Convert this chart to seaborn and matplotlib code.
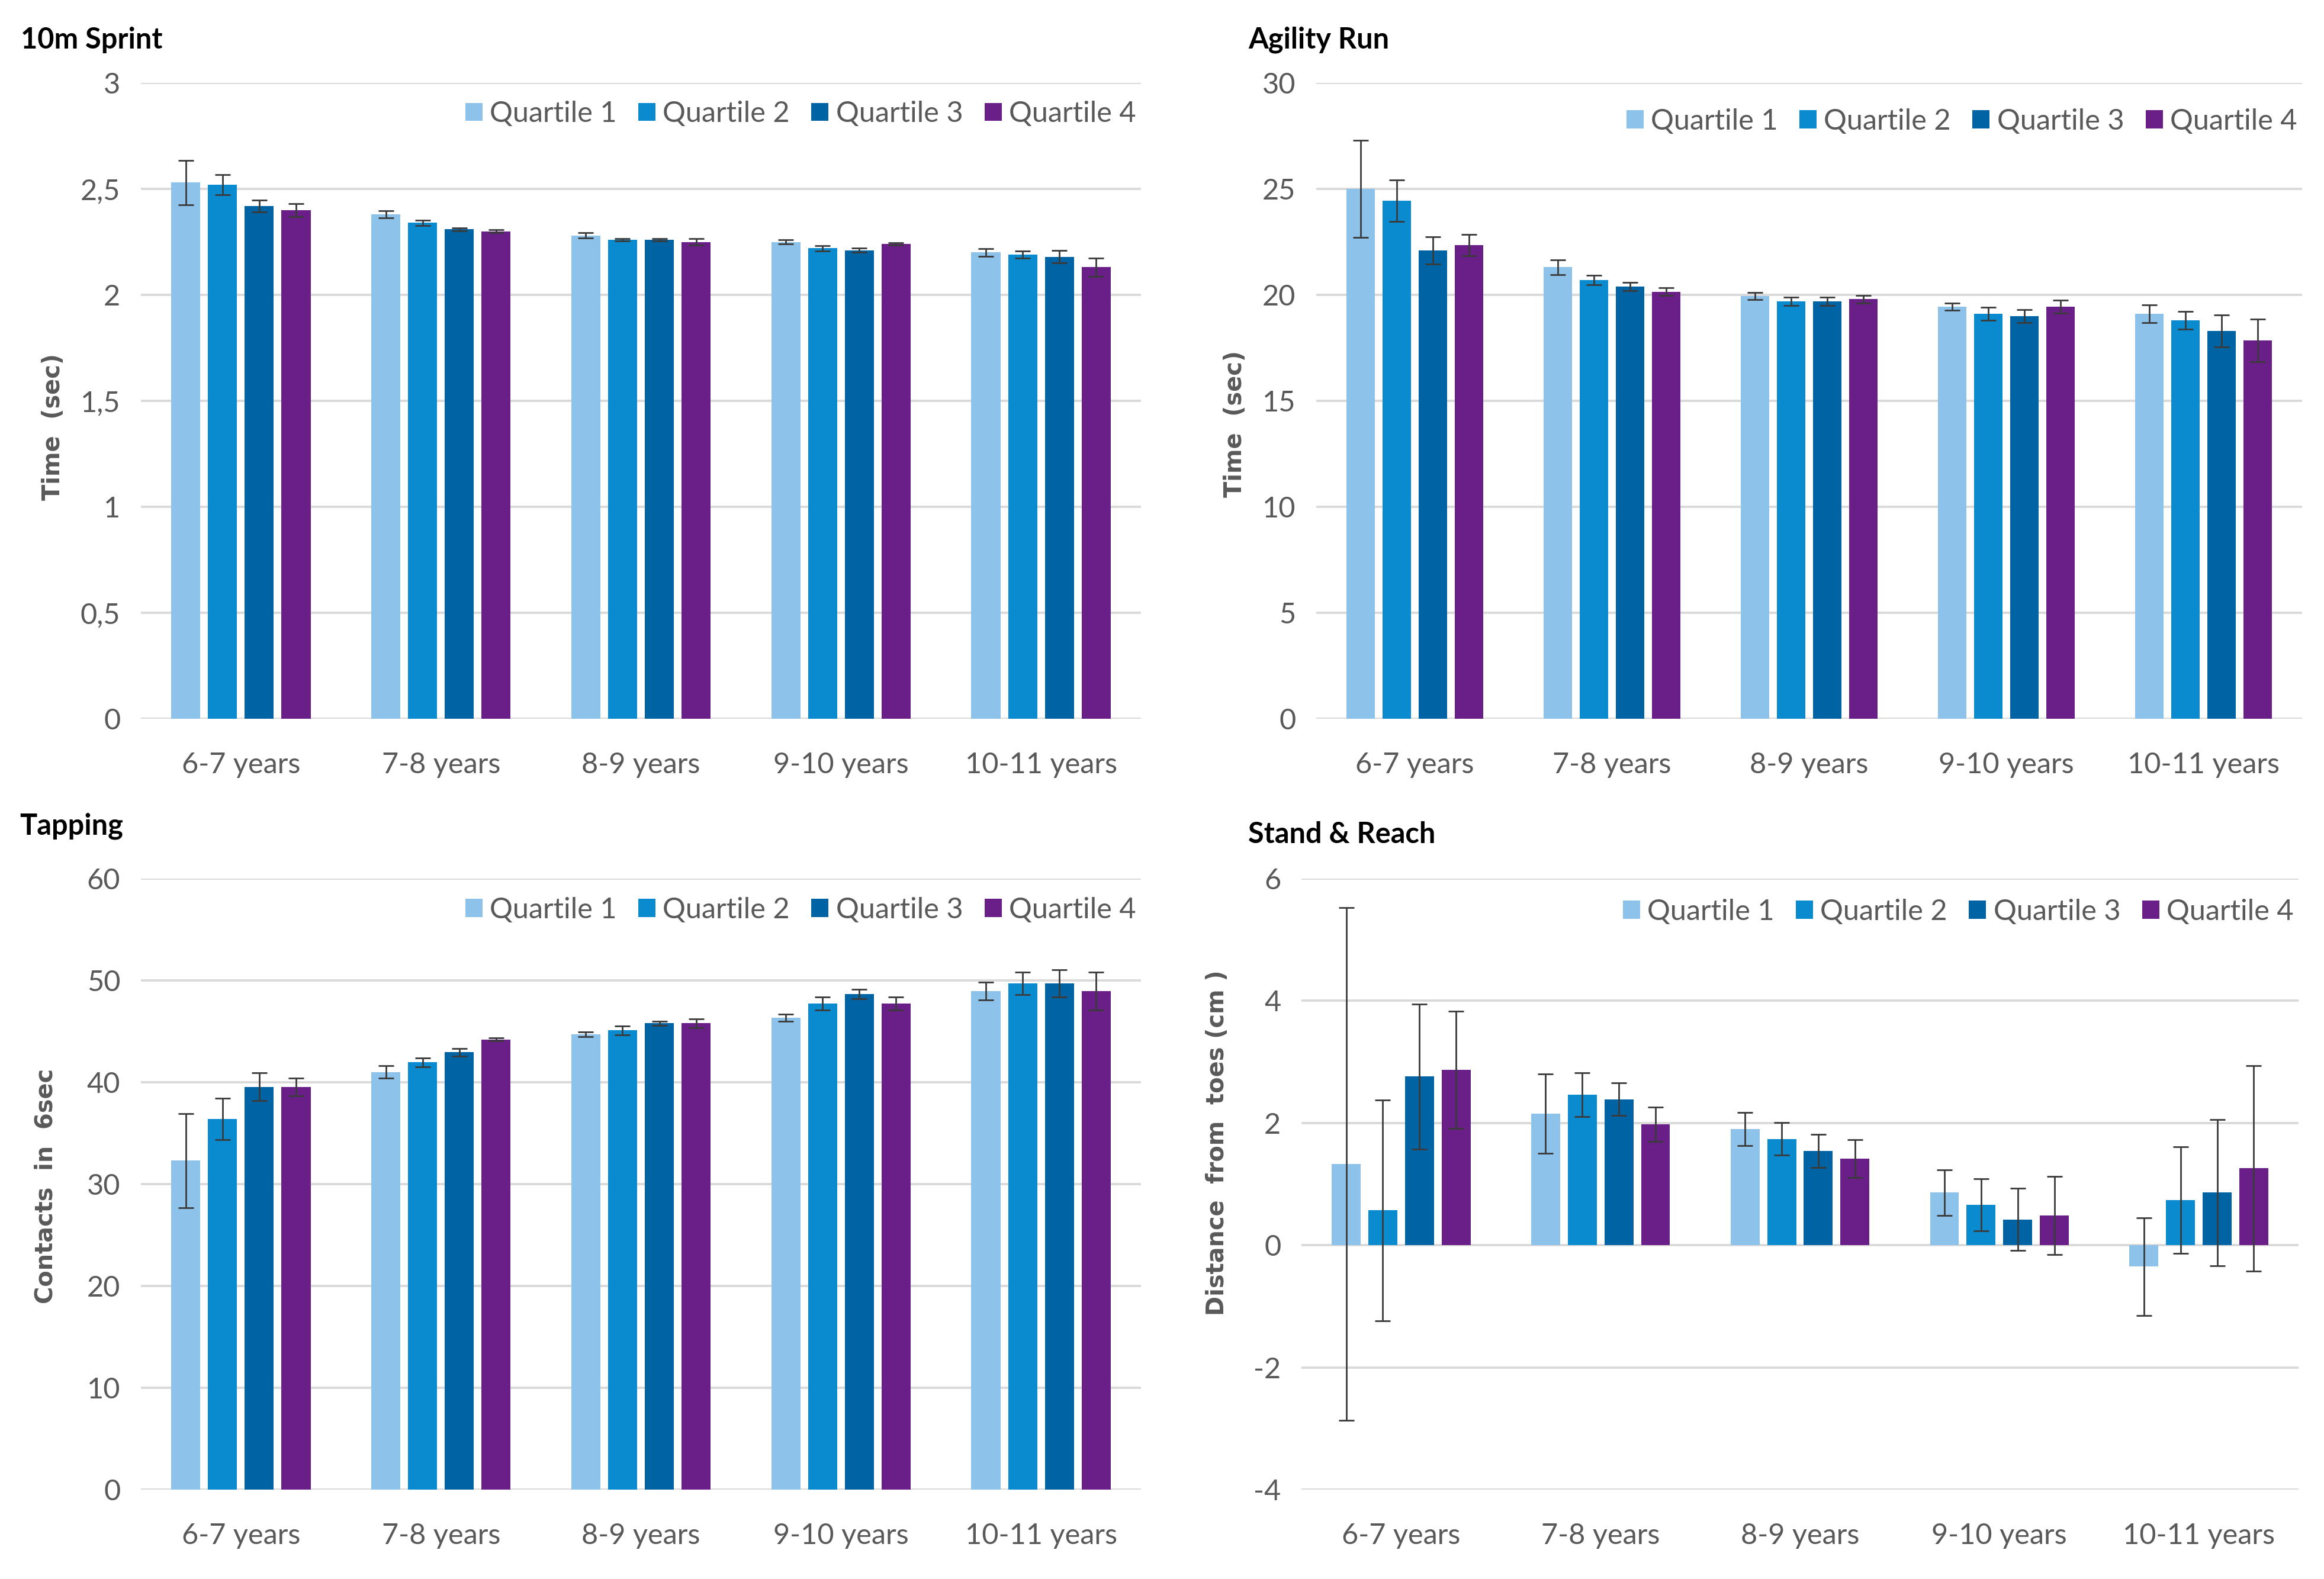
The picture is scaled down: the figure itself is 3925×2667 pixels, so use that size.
import matplotlib
matplotlib.use("Agg")
import matplotlib.pyplot as plt
import seaborn as sns
import pandas as pd

# ---------------- data ----------------
ages = ["6-7 years", "7-8 years", "8-9 years", "9-10 years", "10-11 years"]
quartiles = ["Quartile 1", "Quartile 2", "Quartile 3", "Quartile 4"]
colors = ["#8DC3EA", "#0A8ACF", "#0063A3", "#6A1F88"]

# 10m Sprint (sec) - one list per quartile, over age groups
sprint_q1 = [2.53, 2.38, 2.28, 2.25, 2.20]
sprint_q2 = [2.52, 2.34, 2.26, 2.22, 2.19]
sprint_q3 = [2.42, 2.31, 2.26, 2.21, 2.18]
sprint_q4 = [2.40, 2.30, 2.25, 2.24, 2.13]
sprint_e1 = [0.105, 0.018, 0.012, 0.011, 0.018]
sprint_e2 = [0.047, 0.012, 0.005, 0.012, 0.017]
sprint_e3 = [0.028, 0.007, 0.006, 0.010, 0.030]
sprint_e4 = [0.030, 0.006, 0.015, 0.006, 0.044]

# Agility Run (sec)
agility_q1 = [25.0, 21.3, 19.95, 19.45, 19.1]
agility_q2 = [24.45, 20.7, 19.7, 19.1, 18.8]
agility_q3 = [22.1, 20.4, 19.7, 19.0, 18.3]
agility_q4 = [22.35, 20.15, 19.8, 19.45, 17.85]
agility_e1 = [2.3, 0.35, 0.17, 0.17, 0.42]
agility_e2 = [0.98, 0.22, 0.19, 0.30, 0.42]
agility_e3 = [0.64, 0.20, 0.19, 0.30, 0.76]
agility_e4 = [0.50, 0.18, 0.18, 0.31, 1.00]

# Tapping (contacts in 6 sec)
tapping_q1 = [32.3, 41.0, 44.7, 46.35, 48.95]
tapping_q2 = [36.4, 41.95, 45.1, 47.75, 49.7]
tapping_q3 = [39.55, 42.95, 45.8, 48.65, 49.7]
tapping_q4 = [39.55, 44.2, 45.8, 47.75, 48.95]
tapping_e1 = [4.6, 0.60, 0.25, 0.35, 0.87]
tapping_e2 = [2.05, 0.42, 0.42, 0.64, 1.10]
tapping_e3 = [1.36, 0.38, 0.20, 0.45, 1.34]
tapping_e4 = [0.88, 0.14, 0.45, 0.64, 1.85]

# Stand & Reach (cm from toes)
reach_q1 = [1.33, 2.15, 1.90, 0.86, -0.35]
reach_q2 = [0.57, 2.46, 1.74, 0.66, 0.74]
reach_q3 = [2.76, 2.39, 1.54, 0.42, 0.86]
reach_q4 = [2.87, 1.98, 1.42, 0.49, 1.26]
reach_e1 = [4.20, 0.65, 0.27, 0.37, 0.80]
reach_e2 = [1.81, 0.36, 0.27, 0.43, 0.87]
reach_e3 = [1.19, 0.27, 0.27, 0.51, 1.20]
reach_e4 = [0.96, 0.28, 0.31, 0.64, 1.68]

sprint_ticks = [0, 0.5, 1, 1.5, 2, 2.5, 3]
sprint_ticklabels = ["0", "0,5", "1", "1,5", "2", "2,5", "3"]
agility_ticks = [0, 5, 10, 15, 20, 25, 30]
agility_ticklabels = ["0", "5", "10", "15", "20", "25", "30"]
tapping_ticks = [0, 10, 20, 30, 40, 50, 60]
tapping_ticklabels = ["0", "10", "20", "30", "40", "50", "60"]
reach_ticks = [-4, -2, 0, 2, 4, 6]
reach_ticklabels = ["-4", "-2", "0", "2", "4", "6"]

titles = ["10m Sprint", "Agility Run", "Tapping", "Stand & Reach"]
ylabels = ["Time  (sec)", "Time  (sec)", "Contacts  in  6sec",
           "Distance  from  toes (cm )"]

# ---------------- style ----------------
sns.set_theme(style="white")
plt.rcParams["font.family"] = ["Lato", "DejaVu Sans"]
GRAY = "#595959"

W, H = 3925, 2667
fig = plt.figure(figsize=(W / 250, H / 250), dpi=250)


def frac_rect(l, r, t, b):
    return [l / W, 1 - b / H, (r - l) / W, (b - t) / H]


panels = [
    dict(means=[sprint_q1, sprint_q2, sprint_q3, sprint_q4],
         errs=[sprint_e1, sprint_e2, sprint_e3, sprint_e4],
         ticks=sprint_ticks, ticklabels=sprint_ticklabels,
         rect=frac_rect(238, 1927, 140, 1214), title_xy=(35, 67),
         ylab_xy=(110, 721), leg_y=0.972),
    dict(means=[agility_q1, agility_q2, agility_q3, agility_q4],
         errs=[agility_e1, agility_e2, agility_e3, agility_e4],
         ticks=agility_ticks, ticklabels=agility_ticklabels,
         rect=frac_rect(2223, 3888, 140, 1214), title_xy=(2108, 67),
         ylab_xy=(2106, 716), leg_y=0.960),
    dict(means=[tapping_q1, tapping_q2, tapping_q3, tapping_q4],
         errs=[tapping_e1, tapping_e2, tapping_e3, tapping_e4],
         ticks=tapping_ticks, ticklabels=tapping_ticklabels,
         rect=frac_rect(238, 1927, 1484, 2516), title_xy=(33, 1395),
         ylab_xy=(98, 2003), leg_y=0.970),
    dict(means=[reach_q1, reach_q2, reach_q3, reach_q4],
         errs=[reach_e1, reach_e2, reach_e3, reach_e4],
         ticks=reach_ticks, ticklabels=reach_ticklabels,
         rect=frac_rect(2198, 3882, 1484, 2516), title_xy=(2108, 1410),
         ylab_xy=(2076, 1930), leg_y=0.967),
]

for i, p in enumerate(panels):
    rows = []
    for q, vals in zip(quartiles, p["means"]):
        for a, v in zip(ages, vals):
            rows.append({"age": a, "quartile": q, "value": v})
    df = pd.DataFrame(rows)

    ax = fig.add_axes(p["rect"])
    sns.barplot(data=df, x="age", y="value", hue="quartile",
                order=ages, hue_order=quartiles, palette=colors,
                width=0.735, gap=0.21, errorbar=None, saturation=1,
                linewidth=0, ax=ax)

    # error bars at bar centres
    for cont, m, e in zip(ax.containers, p["means"], p["errs"]):
        xs = [b.get_x() + b.get_width() / 2 for b in cont]
        ax.errorbar(xs, m, yerr=e, fmt="none", ecolor="#3a3a3a",
                    elinewidth=0.8, capsize=3.8, capthick=0.8, zorder=5)

    ax.set_xlim(-0.5, 4.5)
    ax.set_ylim(p["ticks"][0], p["ticks"][-1])
    ax.set_yticks(p["ticks"])
    ax.set_yticklabels(p["ticklabels"])
    ax.yaxis.grid(True, color="#D9D9D9", linewidth=1.1)
    ax.xaxis.grid(False)
    ax.set_axisbelow(True)
    sns.despine(ax=ax, left=True, bottom=True)
    ax.tick_params(axis="both", length=0, labelsize=14, labelcolor=GRAY)
    ax.tick_params(axis="y", pad=10)
    ax.tick_params(axis="x", pad=16)
    ax.set_xlabel("")

    ax.set_ylabel(ylabels[i], family="DejaVu Sans", weight="bold",
                  fontsize=11.5, color=GRAY)
    ax.yaxis.set_label_coords(p["ylab_xy"][0] / W, 1 - p["ylab_xy"][1] / H,
                              transform=fig.transFigure)

    sns.move_legend(ax, "upper right", bbox_to_anchor=(0.995, p["leg_y"]),
                    ncol=4, title=None, frameon=False, handlelength=0.6,
                    handleheight=0.6, handletextpad=0.25, columnspacing=0.75,
                    borderpad=0, borderaxespad=0, fontsize=14,
                    labelcolor=GRAY)

    fig.text(p["title_xy"][0] / W, 1 - p["title_xy"][1] / H, titles[i],
             ha="left", va="center", fontsize=14, weight="bold",
             color="black")

fig.savefig("out.png", dpi=250)
